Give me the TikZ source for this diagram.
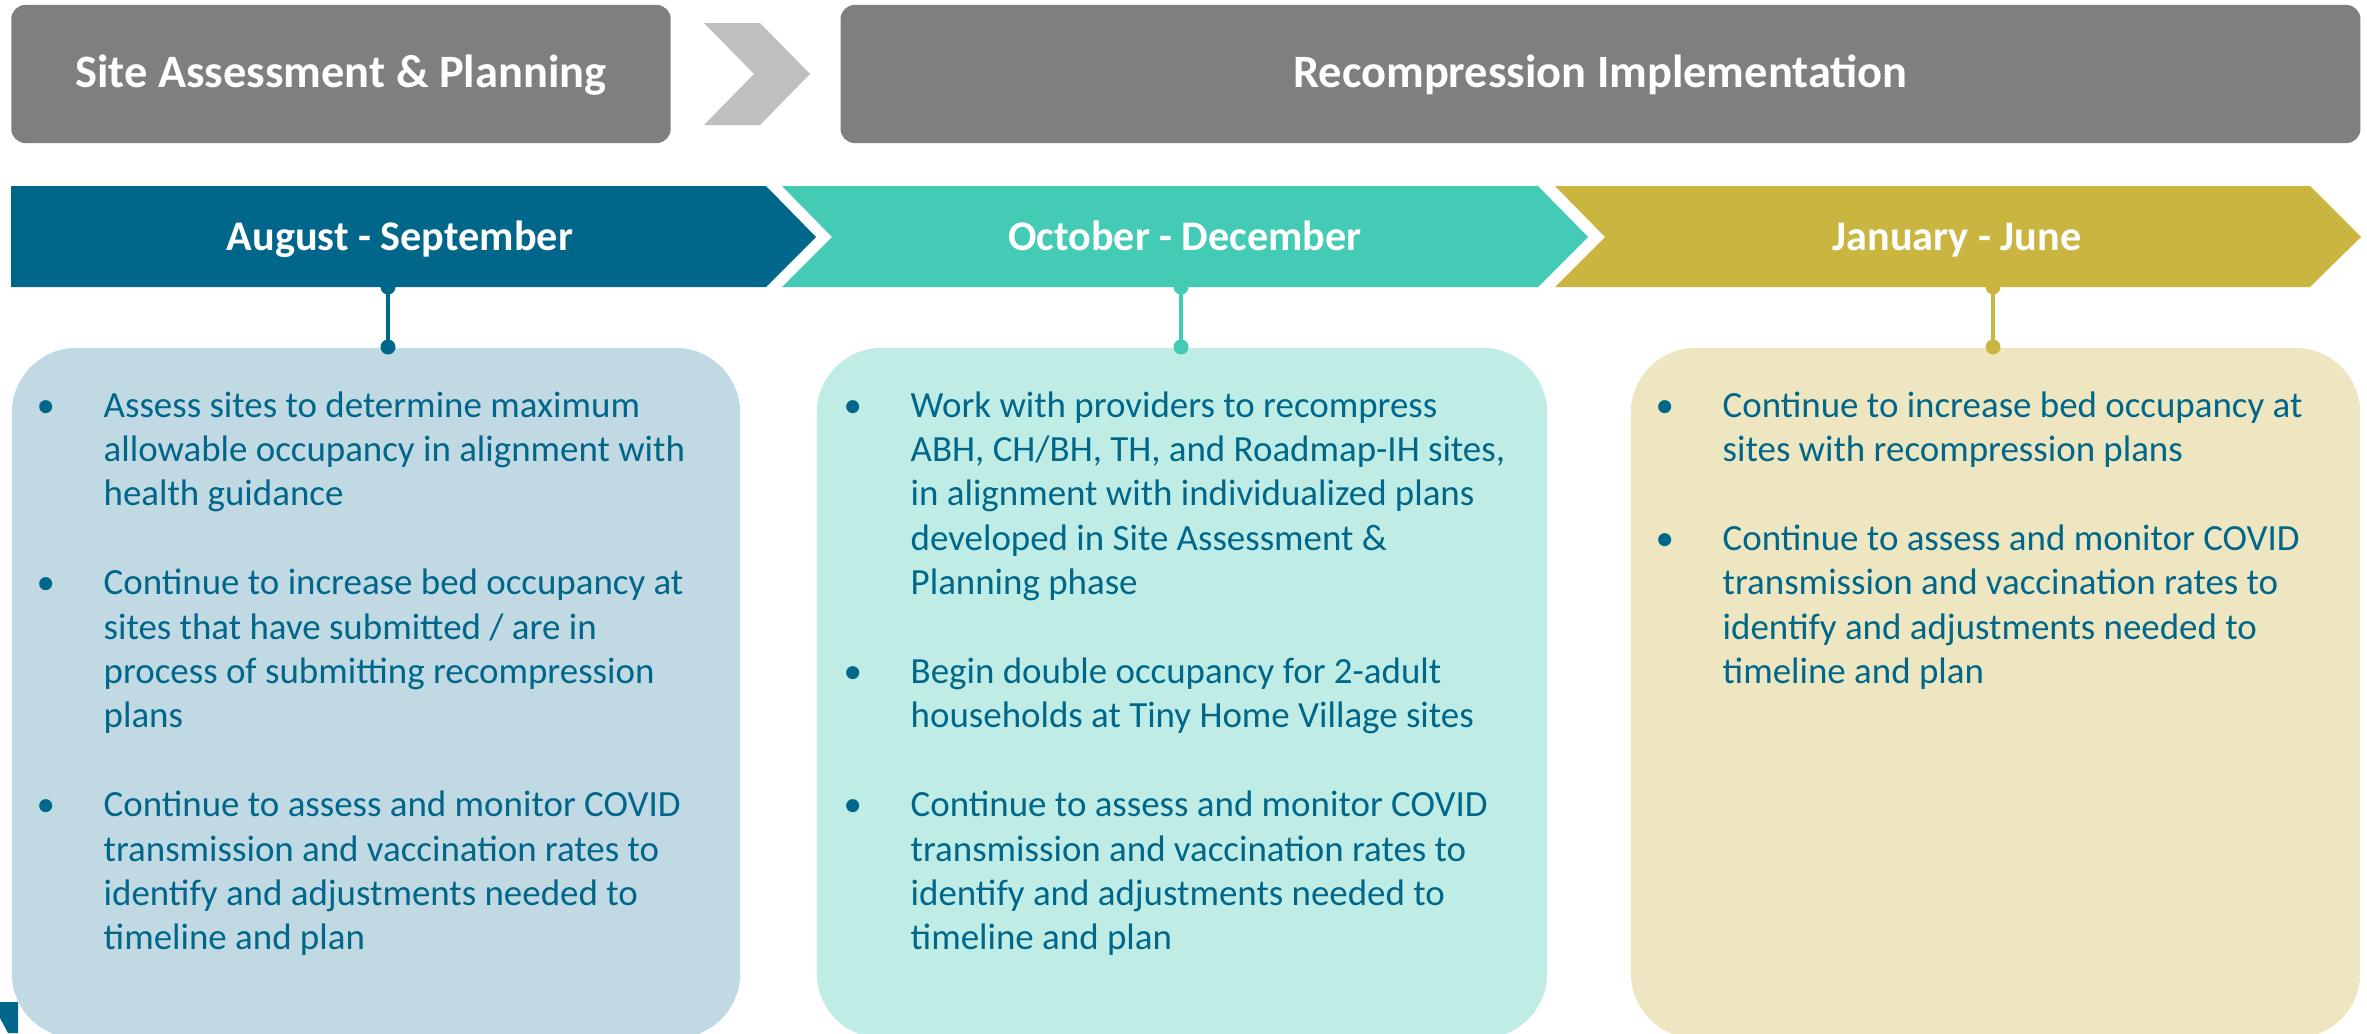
\documentclass[tikz,border=0pt]{standalone}
\usepackage{fontspec}
\setmainfont{Carlito}
\definecolor{hdrgray}{HTML}{7F7F7F}
\definecolor{arrgray}{HTML}{BFBFBF}
\definecolor{cA}{HTML}{00678A}
\definecolor{cB}{HTML}{43CBB5}
\definecolor{cC}{HTML}{C9B540}
\definecolor{bA}{HTML}{C0D9E2}
\definecolor{bB}{HTML}{BFEDE6}
\definecolor{bC}{HTML}{EEE6C0}
\definecolor{txt}{HTML}{00678A}
\newcommand\bul{\makebox[19.05pt][l]{•}}
\begin{document}
\begin{tikzpicture}[x=0.01cm,y=-0.01cm,
  hdr/.style={fill=hdrgray, rounded corners=4pt, minimum height=1.38cm, inner sep=0,
    text height=0.78em, text depth=0pt,
    text=white, font={\bfseries\fontsize{13.2}{16}\selectfont}},
  lbl/.style={text=white, inner sep=0, text height=0.78em, text depth=0pt,
    font={\bfseries\fontsize{12}{14}\selectfont}},
  cbox/.style={rounded corners=18.5pt, minimum height=6.90cm, inner sep=0},
  body/.style={text=txt, inner sep=0, anchor=base west, font={\fontsize{10.5}{12.63}\selectfont}},
  stem/.style={line width=1.14pt},
  dot/.style={radius=0.075cm}
]
\useasboundingbox (0,0) rectangle (2367,1033);

% top phase headers
\node[hdr, minimum width=6.59cm] (h1) at (341,74) {Site Assessment \& Planning};
\node[hdr, minimum width=15.19cm] (h2) at (1600.5,74) {Recompression Implementation};
\fill[arrgray] (704,23) -- (760,23) -- (810,74) -- (760,125) -- (704,125) -- (754,74) -- cycle;

% timeline chevrons
\fill[cA] (11,186) -- (766,186) -- (816,237) -- (766,287) -- (11,287) -- cycle;
\fill[cB] (782,186) -- (1538,186) -- (1588,237) -- (1538,287) -- (782,287) -- (832,237) -- cycle;
\fill[cC] (1555,186) -- (2310,186) -- (2361,237) -- (2310,287) -- (1555,287) -- (1605,237) -- cycle;
\node[lbl] (l1) at (400,237) {August - September};
\node[lbl] (l2) at (1185,237) {October - December};
\node[lbl] (l3) at (1957,237) {January - June};

% content boxes
\node[cbox, fill=bA, minimum width=7.28cm] (b1) at (376,693) {};
\node[cbox, fill=bB, minimum width=7.30cm] (b2) at (1182,693) {};
\node[cbox, fill=bC, minimum width=7.29cm] (b3) at (1995.5,693) {};

% connectors
\coordinate (s1t) at (388,287); \coordinate (s1b) at (388,347);
\coordinate (s2t) at (1181,287); \coordinate (s2b) at (1181,347);
\coordinate (s3t) at (1993,287); \coordinate (s3b) at (1993,347);
\draw[stem, cA] (s1t) -- (s1b);
\fill[cA] (s1t) circle[dot]; \fill[cA] (s1b) circle[dot];
\draw[stem, cB] (s2t) -- (s2b);
\fill[cB] (s2t) circle[dot]; \fill[cB] (s2b) circle[dot];
\draw[stem, cC] (s3t) -- (s3b);
\fill[cC] (s3t) circle[dot]; \fill[cC] (s3b) circle[dot];

% texts
\node[body] (t1) at (36,417) {\begin{tabular}[t]{@{}l@{}l@{}}
\bul & Assess sites to determine maximum\\
 & allowable occupancy in alignment with\\
 & health guidance\\
 & \\
\bul & Continue to increase bed occupancy at\\
 & sites that have submitted / are in\\
 & process of submitting recompression\\
 & plans\\
 & \\
\bul & Continue to assess and monitor COVID\\
 & transmission and vaccination rates to\\
 & identify and adjustments needed to\\
 & timeline and plan
\end{tabular}};
\node[body] (t2) at (843,417) {\begin{tabular}[t]{@{}l@{}l@{}}
\bul & Work with providers to recompress\\
 & ABH, CH/BH, TH, and Roadmap-IH sites,\\
 & in alignment with individualized plans\\
 & developed in Site Assessment \&\\
 & Planning phase\\
 & \\
\bul & Begin double occupancy for 2-adult\\
 & households at Tiny Home Village sites\\
 & \\
\bul & Continue to assess and monitor COVID\\
 & transmission and vaccination rates to\\
 & identify and adjustments needed to\\
 & timeline and plan
\end{tabular}};
\node[body] (t3) at (1655,417) {\begin{tabular}[t]{@{}l@{}l@{}}
\bul & Continue to increase bed occupancy at\\
 & sites with recompression plans\\
 & \\
\bul & Continue to assess and monitor COVID\\
 & transmission and vaccination rates to\\
 & identify and adjustments needed to\\
 & timeline and plan
\end{tabular}};

% cut-off mark at bottom left
\fill[cA] (0,1002) -- (18,1002) -- (18,1033) -- (8,1033) -- (0,1018) -- cycle;
\end{tikzpicture}
\end{document}
